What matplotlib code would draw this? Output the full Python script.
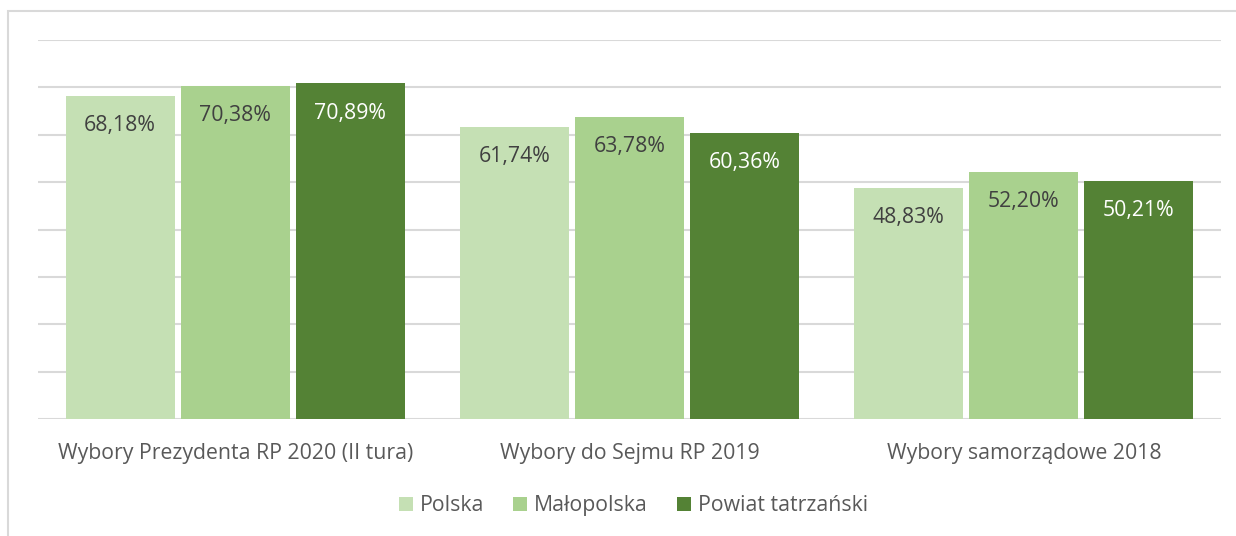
import numpy as np
import matplotlib
matplotlib.use("Agg")
from matplotlib import pyplot as plt
from matplotlib.patches import Rectangle

categories = ["Wybory Prezydenta RP 2020 (II tura)", "Wybory do Sejmu RP 2019", "Wybory samorządowe 2018"]
series_names = ["Polska", "Małopolska", "Powiat tatrzański"]
polska = [68.18, 61.74, 48.83]
malopolska = [70.38, 63.78, 52.20]
powiat = [70.89, 60.36, 50.21]

colors = ["#C5E0B4", "#A9D18E", "#548235"]
label_colors = ["#404040", "#404040", "#FFFFFF"]

plt.rcParams['font.family'] = 'Open Sans'
fs = 15.3
W, H = 1236, 536

fig = plt.figure(figsize=(W/100, H/100), dpi=100)
# outer chart frame (right and bottom edges fall outside the canvas)
fig.patches.append(Rectangle((8/W, -0.05), 1.1, (H-11)/H + 0.05, transform=fig.transFigure,
                             fill=False, edgecolor="#D9D9D9", linewidth=1.5))

ax = fig.add_axes([38/W, 1-419/H, (1221-38)/W, (419-40)/H])
ax.set_xlim(-0.5, 2.5)
ax.set_ylim(0, 80)
ax.set_yticks(np.arange(0, 81, 10))
ax.yaxis.grid(True, color="#D9D9D9", linewidth=1.5)
ax.set_axisbelow(True)
ax.tick_params(axis="y", length=0, labelleft=False)
ax.tick_params(axis="x", length=0, pad=17, labelsize=fs, labelcolor="#595959")
for s in ax.spines.values():
    s.set_visible(False)

x = np.arange(len(categories))
width = 0.2765
step = 0.2917
for i, vals in enumerate([polska, malopolska, powiat]):
    bars = ax.bar(x + (i - 1) * step, vals, width, color=colors[i], zorder=2)
    for b, v in zip(bars, vals):
        ax.annotate(f"{v:.2f}%".replace(".", ","), (b.get_x() + b.get_width() / 2, v),
                    xytext=(0, -21.5), textcoords="offset points", ha="center", va="center",
                    fontsize=fs, color=label_colors[i], zorder=3)

ax.set_xticks(x)
ax.set_xticklabels(categories)

# legend row: square + label, laid out left to right on a shared baseline
renderer = fig.canvas.get_renderer()
baseline = 511
sq, sq_gap, item_gap = 14, 7, 29
texts = [fig.text(0, 1 - baseline/H, n, fontsize=fs, color="#595959", va="baseline")
         for n in series_names]
widths = [t.get_window_extent(renderer).width for t in texts]
total = sum(widths) + len(texts) * (sq + sq_gap) + (len(texts) - 1) * item_gap
xpos = 633.5 - total / 2
for t, w, c in zip(texts, widths, colors):
    fig.patches.append(Rectangle((xpos/W, 1 - baseline/H), sq/W, sq/H,
                                 transform=fig.transFigure, color=c, lw=0))
    t.set_x((xpos + sq + sq_gap)/W)
    xpos += sq + sq_gap + w + item_gap

fig.savefig("out.png", dpi=100)
